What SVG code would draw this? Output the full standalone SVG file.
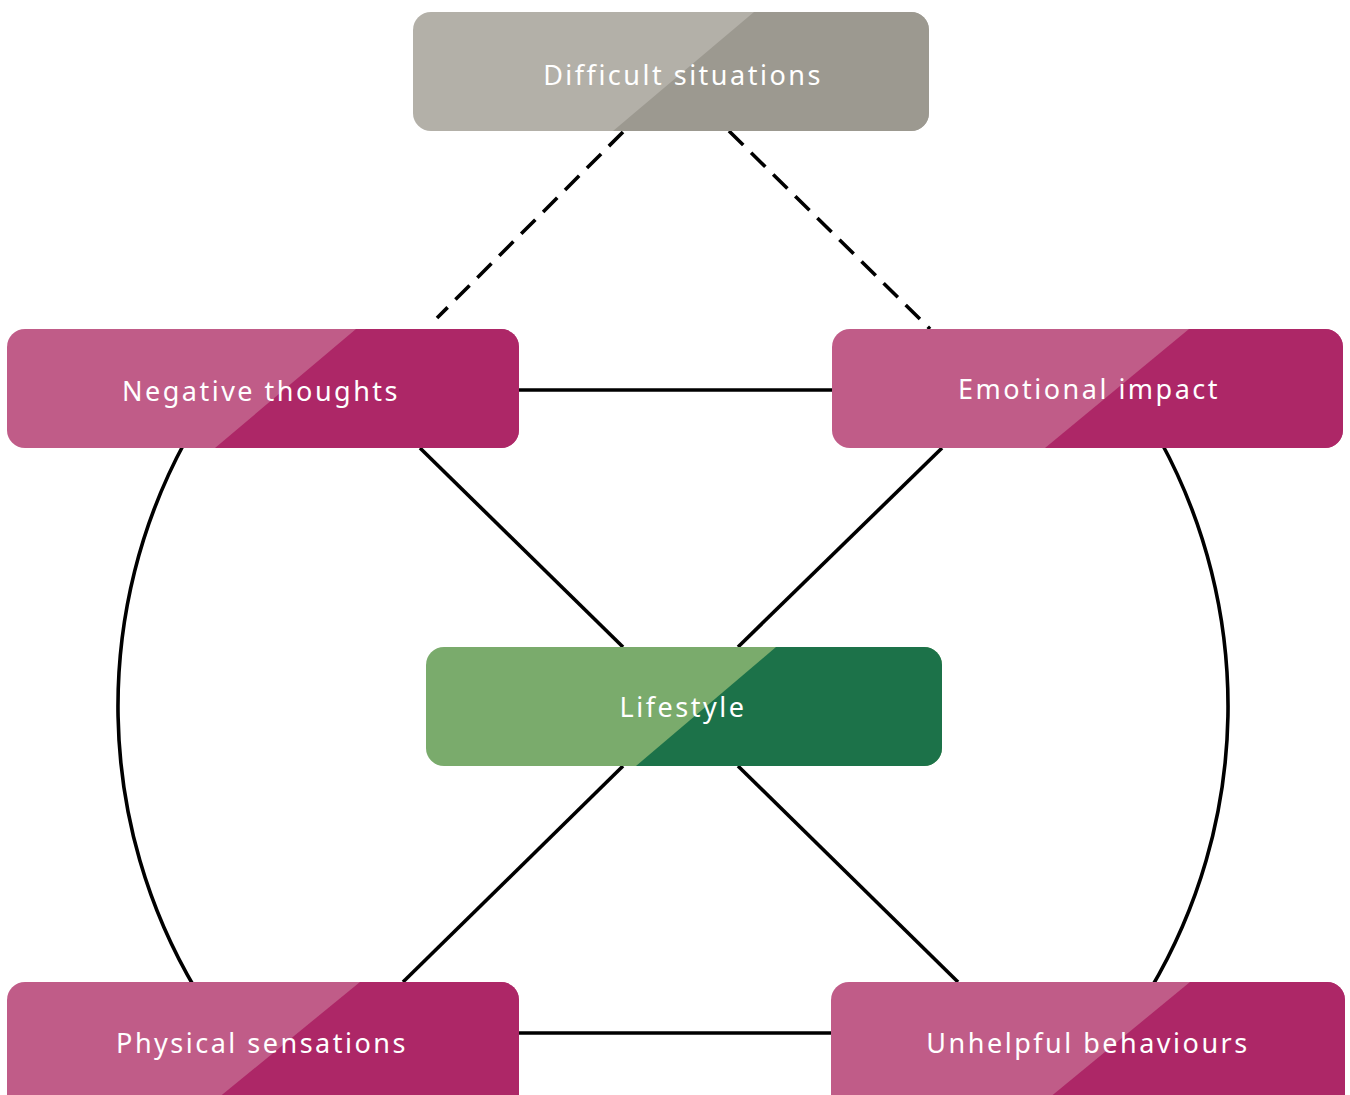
<svg xmlns="http://www.w3.org/2000/svg" width="1350" height="1095" viewBox="0 0 1350 1095">
  <style>
    .lbl { font-family: "Noto Sans", "Liberation Sans", sans-serif; font-size: 27px; fill: #ffffff; text-anchor: middle; letter-spacing: 2.5px; }
    .link { fill: none; stroke: #000000; stroke-width: 3.6; }
    .dash { stroke-dasharray: 20 11; }
    .pink-a { fill: #c05c88; }
    .pink-b { fill: #ad2767; }
    .grey-a { fill: #b3b0a8; }
    .grey-b { fill: #9c9990; }
    .green-a { fill: #7aab6c; }
    .green-b { fill: #1c7249; }
  </style>
  <defs>
    <clipPath id="clip-situations"><rect x="413" y="12" width="516" height="119" rx="18"/></clipPath>
    <clipPath id="clip-thoughts"><rect x="7" y="329" width="512" height="119" rx="18"/></clipPath>
    <clipPath id="clip-emotional"><rect x="832" y="329" width="511" height="119" rx="18"/></clipPath>
    <clipPath id="clip-lifestyle"><rect x="426" y="647" width="516" height="119" rx="18"/></clipPath>
    <clipPath id="clip-physical"><rect x="7" y="982" width="512" height="130" rx="18"/></clipPath>
    <clipPath id="clip-behaviours"><rect x="831" y="982" width="514" height="130" rx="18"/></clipPath>
  </defs>

  <rect width="1350" height="1095" fill="#ffffff"/>

  <g id="connectors">
    <!-- dashed links from the situations box -->
    <line class="link dash" x1="623" y1="132" x2="437" y2="318"/>
    <line class="link dash" x1="729" y1="131" x2="930" y2="329"/>
    <!-- outer circle arcs -->
    <path class="link" d="M186 440 A555 555 0 0 0 196 990"/>
    <path class="link" d="M1160 440 A555 555 0 0 1 1150 990"/>
    <!-- horizontal links -->
    <line class="link" x1="515" y1="390" x2="836" y2="390"/>
    <line class="link" x1="515" y1="1033" x2="835" y2="1033"/>
    <!-- diagonals through the lifestyle box -->
    <line class="link" x1="420" y1="448" x2="623" y2="647"/>
    <line class="link" x1="942" y1="448" x2="738" y2="647"/>
    <line class="link" x1="623" y1="766" x2="403" y2="982"/>
    <line class="link" x1="738" y1="766" x2="958" y2="982"/>
  </g>

  <g id="node-situations" clip-path="url(#clip-situations)">
    <rect class="grey-a" x="413" y="12" width="516" height="119"/>
    <polygon class="grey-b" points="754,12 929,12 929,131 613,131"/>
    <text class="lbl" x="683" y="85">Difficult situations</text>
  </g>

  <g id="node-thoughts" clip-path="url(#clip-thoughts)">
    <rect class="pink-a" x="7" y="329" width="512" height="119"/>
    <polygon class="pink-b" points="356,329 519,329 519,448 215,448"/>
    <text class="lbl" x="261" y="401">Negative thoughts</text>
  </g>

  <g id="node-emotional" clip-path="url(#clip-emotional)">
    <rect class="pink-a" x="832" y="329" width="511" height="119"/>
    <polygon class="pink-b" points="1189,329 1343,329 1343,448 1045,448"/>
    <text class="lbl" x="1089" y="399">Emotional impact</text>
  </g>

  <g id="node-lifestyle" clip-path="url(#clip-lifestyle)">
    <rect class="green-a" x="426" y="647" width="516" height="119"/>
    <polygon class="green-b" points="776,647 942,647 942,766 636,766"/>
    <text class="lbl" x="683" y="717">Lifestyle</text>
  </g>

  <g id="node-physical" clip-path="url(#clip-physical)">
    <rect class="pink-a" x="7" y="982" width="512" height="130"/>
    <polygon class="pink-b" points="360,982 519,982 519,1112 201,1112"/>
    <text class="lbl" x="262" y="1053">Physical sensations</text>
  </g>

  <g id="node-behaviours" clip-path="url(#clip-behaviours)">
    <rect class="pink-a" x="831" y="982" width="514" height="130"/>
    <polygon class="pink-b" points="1190,982 1345,982 1345,1112 1032,1112"/>
    <text class="lbl" x="1088" y="1053">Unhelpful behaviours</text>
  </g>
</svg>
